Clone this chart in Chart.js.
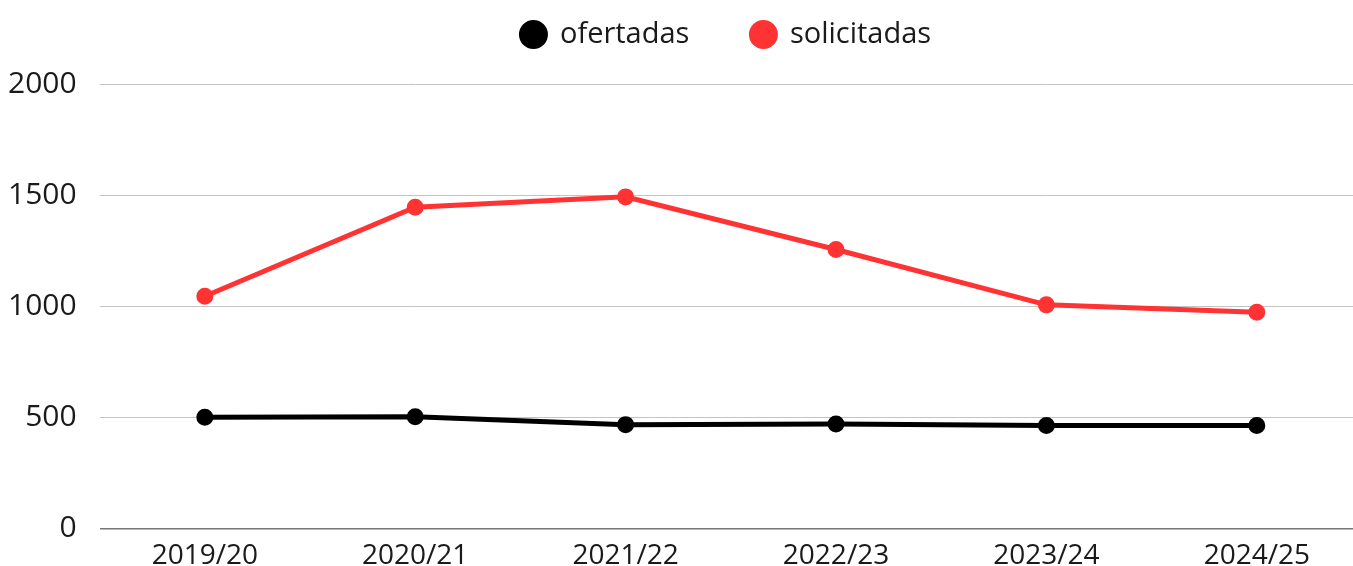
<!DOCTYPE html>
<html>
<head>
<meta charset="utf-8">
<script src="https://cdn.jsdelivr.net/npm/chart.js@4/dist/chart.umd.min.js"></script>
<style>
  html, body { margin: 0; padding: 0; background: #fff; overflow: hidden; }
  #wrap { width: 1373px; height: 576px; position: relative; }
</style>
</head>
<body>
<div id="wrap"><canvas id="chart"></canvas></div>
<script>
// data
var cursos = ["2019/20", "2020/21", "2021/22", "2022/23", "2023/24", "2024/25"];
var ofertadas = [500, 502, 467, 470, 463, 463];
var solicitadas = [1045, 1445, 1492, 1255, 1006, 973];
var yTicks = [0, 500, 1000, 1500, 2000];

var font = "'Open Sans', sans-serif";
var textColor = "#1a1a1a";

function serie(label, data, color) {
  return {
    label: label,
    data: data,
    borderColor: color,
    backgroundColor: color,
    borderWidth: 5,
    pointRadius: 6,
    pointHoverRadius: 6,
    pointStyle: "circle",
    fill: false,
    tension: 0
  }
}

// more room under the legend, and legend centred over the visible plot area
var legendTweak = {
  id: "legendTweak",
  beforeInit: function(chart) {
    var fit = chart.legend.fit;
    chart.legend.fit = function() {
      fit.call(this);
      this.height += 25;
    };
  },
  afterLayout: function(chart) {
    var lg = chart.legend, ca = chart.chartArea;
    var right = Math.min(ca.right, window.innerWidth);
    var shift = (ca.left + right) / 2 - (lg.left + lg.right) / 2;
    lg.left += shift;
    lg.right += shift;
  }
};

var canvas = document.getElementById("chart");
new Chart(canvas, {
  type: "line",
  data: {
    labels: cursos,
    datasets: [
      serie("ofertadas", ofertadas, "#000000"),
      serie("solicitadas", solicitadas, "#ff3333")
    ]
  },
  plugins: [legendTweak],
  options: {
    responsive: true,
    maintainAspectRatio: false,
    animation: false,
    layout: { padding: { top: -42, left: -15, right: 0, bottom: 0 } },
    plugins: {
      tooltip: { enabled: false },
      legend: {
        position: "top",
        labels: {
          usePointStyle: true,
          boxHeight: 17,
          pointStyleWidth: 24,
          padding: 62,
          color: textColor,
          font: { family: font, size: 29 }
        }
      }
    },
    scales: {
      x: {
        offset: true,
        grid: { display: false },
        border: { display: false },
        ticks: {
          color: textColor,
          padding: 3,
          maxRotation: 0,
          font: { family: font, size: 28, lineHeight: 1.2 }
        }
      },
      y: {
        min: 0,
        max: 2000,
        afterBuildTicks: function(scale) {
          scale.ticks = yTicks.map(v => ({ value: v }));
        },
        border: { display: false },
        grid: {
          drawTicks: false,
          color: ctx => ctx.tick && ctx.tick.value === 0 ? "#777777" : "#c4c4c4",
          lineWidth: ctx => ctx.tick && ctx.tick.value === 0 ? 1.5 : 1
        },
        ticks: {
          color: textColor,
          padding: 23,
          font: { family: font, size: 30 },
          callback: v => String(v)
        }
      }
    }
  }
})
</script>
</body>
</html>
